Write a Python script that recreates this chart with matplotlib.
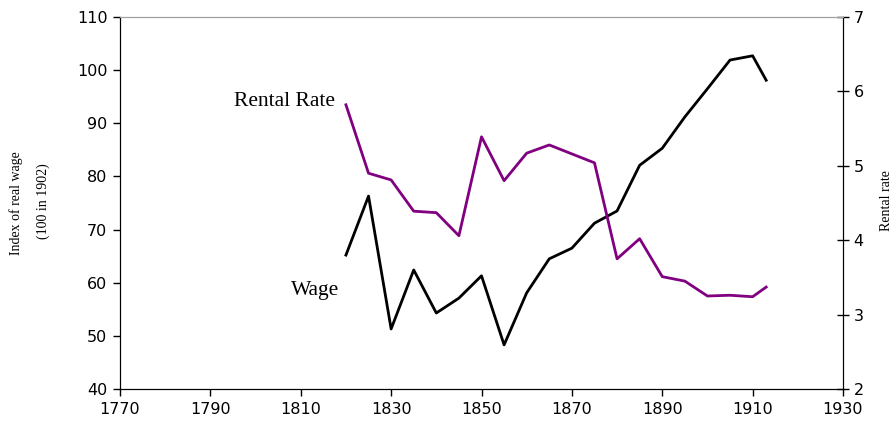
import matplotlib.pyplot as plt
import numpy as np

years = [1820, 1825, 1830, 1835, 1840, 1845, 1850, 1855, 1860, 1865,
         1870, 1875, 1880, 1885, 1890, 1895, 1900, 1905, 1910, 1913]
wage = [65.2, 76.3, 51.3, 62.4, 54.3, 57.1, 61.3, 48.3, 58.1, 64.5,
        66.5, 71.2, 73.5, 82.1, 85.3, 91.2, 96.5, 101.9, 102.7, 98.1]
rental = [5.82, 4.90, 4.81, 4.39, 4.37, 4.06, 5.39, 4.80, 5.17, 5.28,
          5.16, 5.04, 3.75, 4.02, 3.51, 3.45, 3.25, 3.26, 3.24, 3.37]

fig = plt.figure(figsize=(8.94, 4.22), dpi=100)
ax = fig.add_axes([120/894, 1-389/422, (843-120)/894, (389-17)/422])
ax2 = ax.twinx()

ax.plot(years, wage, color='black', lw=2.0)
ax2.plot(years, rental, color='#800080', lw=2.0)

ax.set_xlim(1770, 1930)
ax.set_ylim(40, 110)
ax2.set_ylim(2, 7)
ax.set_xticks(np.arange(1770, 1931, 20))
ax.set_yticks(np.arange(40, 111, 10))
ax2.set_yticks(np.arange(2, 8, 1))

# tick labels: wide sans, as in the original
for a in (ax, ax2):
    for lab in a.get_xticklabels() + a.get_yticklabels():
        lab.set_fontfamily('DejaVu Sans')
        lab.set_fontsize(11.5)
ax.tick_params(axis='both', direction='out', length=5, width=1, pad=4)
ax2.tick_params(axis='y', direction='inout', length=9, width=1, pad=3)

ax.spines['top'].set_color('#a0a0a0')
ax2.spines['top'].set_color('#a0a0a0')

# axis titles
fig.text(16/894, 1-203/422, 'Index of real wage', family='Liberation Serif',
         fontsize=10, rotation=90, ha='center', va='center')
fig.text(43/894, 1-201/422, '(100 in 1902)', family='Liberation Serif',
         fontsize=10, rotation=90, ha='center', va='center')
fig.text(887/894, 1-201/422, 'Rental rate', family='Liberation Serif',
         fontsize=10, rotation=90, ha='center', va='center')

# series labels
ax.text(1817.5, 92.4, 'Rental Rate', family='Liberation Serif', fontsize=15.5,
        ha='right', va='bottom')
ax.text(1818.5, 56.8, 'Wage', family='Liberation Serif', fontsize=15.5,
        ha='right', va='bottom')

fig.savefig('out.png', dpi=100)
